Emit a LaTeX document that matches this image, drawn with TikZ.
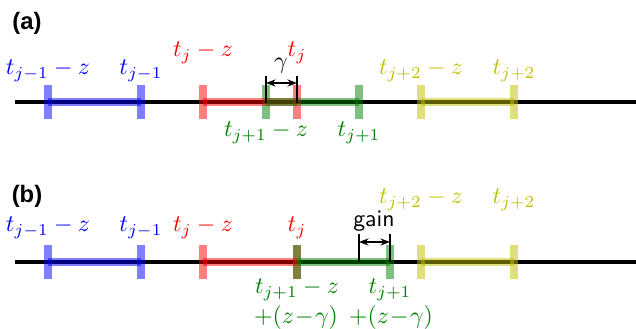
\documentclass[tikz,border=0pt]{standalone}
\usepackage{amsmath}
\usepackage{fontspec}
\usepackage{xcolor}
\newfontfamily\panelfont{Liberation Sans}
\usetikzlibrary{arrows.meta}
\definecolor{mblue}{rgb}{0,0,1}
\definecolor{mred}{rgb}{1,0,0}
\definecolor{mgreen}{rgb}{0,0.5,0}
\definecolor{myellow}{rgb}{0.75,0.75,0}

\begin{document}
\begin{tikzpicture}[x=0.42pt, y=-0.42pt,
    every node/.style={inner sep=0pt},
    axisline/.style={line width=1.4pt, black},
    band/.style={line width=3.6pt, opacity=0.5},
    tickbar/.style={rectangle, inner sep=0pt, minimum width=3.4pt, minimum height=14pt, fill opacity=0.5},
    gapbar/.style={line width=1.2pt, black},
    gaparrow/.style={{Stealth[length=4pt]}-{Stealth[length=4pt]}, line width=1.2pt, black},
    shiftlbl/.style={text=mgreen, execute at begin node={\medmuskip=1mu}},
    panel/.style={font=\panelfont\bfseries}]
    \useasboundingbox (0,0) rectangle (636,329);

    % ---- panel (a) ----
    \node[panel] (pa) at (27,23) {(a)};
    \coordinate (aL) at (15,102);
    \coordinate (aR) at (636,102);
    \draw[axisline] (aL) -- (aR);

    \node[tickbar, fill=mblue] (a1) at (48,102) {};
    \node[tickbar, fill=mblue] (a2) at (141,102) {};
    \node[tickbar, fill=mred] (a3) at (203,102) {};
    \node[tickbar, fill=mred] (a4) at (297,102) {};
    \node[tickbar, fill=mgreen] (a5) at (266,102) {};
    \node[tickbar, fill=mgreen] (a6) at (359,102) {};
    \node[tickbar, fill=myellow] (a7) at (421,102) {};
    \node[tickbar, fill=myellow] (a8) at (514,102) {};

    \draw[band, mblue] (a1.center) -- (a2.center);
    \draw[band, mred] (a3.center) -- (a4.center);
    \draw[band, mgreen] (a5.center) -- (a6.center);
    \draw[band, myellow] (a7.center) -- (a8.center);

    \node[text=mblue] (la1) at (48,71) {$t_{j-1}-z$};
    \node[text=mblue] (la2) at (141,71) {$t_{j-1}$};
    \node[text=mred] (la3) at (203,53) {$t_j-z$};
    \node[text=mred] (la4) at (297,53) {$t_j$};
    \node[text=mgreen] (la5) at (266,133) {$t_{j+1}-z$};
    \node[text=mgreen] (la6) at (359,133) {$t_{j+1}$};
    \node[text=myellow] (la7) at (421,71) {$t_{j+2}-z$};
    \node[text=myellow] (la8) at (514,71) {$t_{j+2}$};

    \coordinate (gamL) at (266,83);
    \coordinate (gamR) at (297,83);
    \draw[gapbar] (gamL) ++(0,-7) -- ++(0,27);
    \draw[gapbar] (gamR) ++(0,-7) -- ++(0,27);
    \draw[gaparrow] (gamL) -- (gamR);
    \node (lgam) at (281,66) {$\gamma$};

    % ---- panel (b) ----
    \node[panel] (pb) at (27,196) {(b)};
    \coordinate (bL) at (15,262);
    \coordinate (bR) at (636,262);
    \draw[axisline] (bL) -- (bR);

    \node[tickbar, fill=mblue] (b1) at (48,262) {};
    \node[tickbar, fill=mblue] (b2) at (141,262) {};
    \node[tickbar, fill=mred] (b3) at (203,262) {};
    \node[tickbar, fill=mred] (b4) at (297,262) {};
    \node[tickbar, fill=mgreen] (b5) at (297,262) {};
    \node[tickbar, fill=mgreen] (b6) at (390,262) {};
    \node[tickbar, fill=myellow] (b7) at (421,262) {};
    \node[tickbar, fill=myellow] (b8) at (514,262) {};

    \draw[band, mblue] (b1.center) -- (b2.center);
    \draw[band, mred] (b3.center) -- (b4.center);
    \draw[band, mgreen] (b5.center) -- (b6.center);
    \draw[band, myellow] (b7.center) -- (b8.center);

    \node[text=mblue] (lb1) at (48,228) {$t_{j-1}-z$};
    \node[text=mblue] (lb2) at (141,228) {$t_{j-1}$};
    \node[text=mred] (lb3) at (203,228) {$t_j-z$};
    \node[text=mred] (lb4) at (297,228) {$t_j$};
    \node[text=mgreen] (lb5) at (297,290) {$t_{j+1}-z$};
    \node[shiftlbl] (lb5b) at (296,318) {$+(z-\gamma)$};
    \node[text=mgreen] (lb6) at (390,290) {$t_{j+1}$};
    \node[shiftlbl] (lb6b) at (391,318) {$+(z-\gamma)$};
    \node[text=myellow] (lb7) at (421,200) {$t_{j+2}-z$};
    \node[text=myellow] (lb8) at (514,200) {$t_{j+2}$};

    \coordinate (gainL) at (359,242);
    \coordinate (gainR) at (390,242);
    \draw[gapbar] (gainL) ++(0,-8) -- ++(0,28);
    \draw[gapbar] (gainR) ++(0,-8) -- ++(0,28);
    \draw[gaparrow] (gainL) -- (gainR);
    \node[font=\sffamily] (lgain) at (374,221) {gain};
\end{tikzpicture}
\end{document}
